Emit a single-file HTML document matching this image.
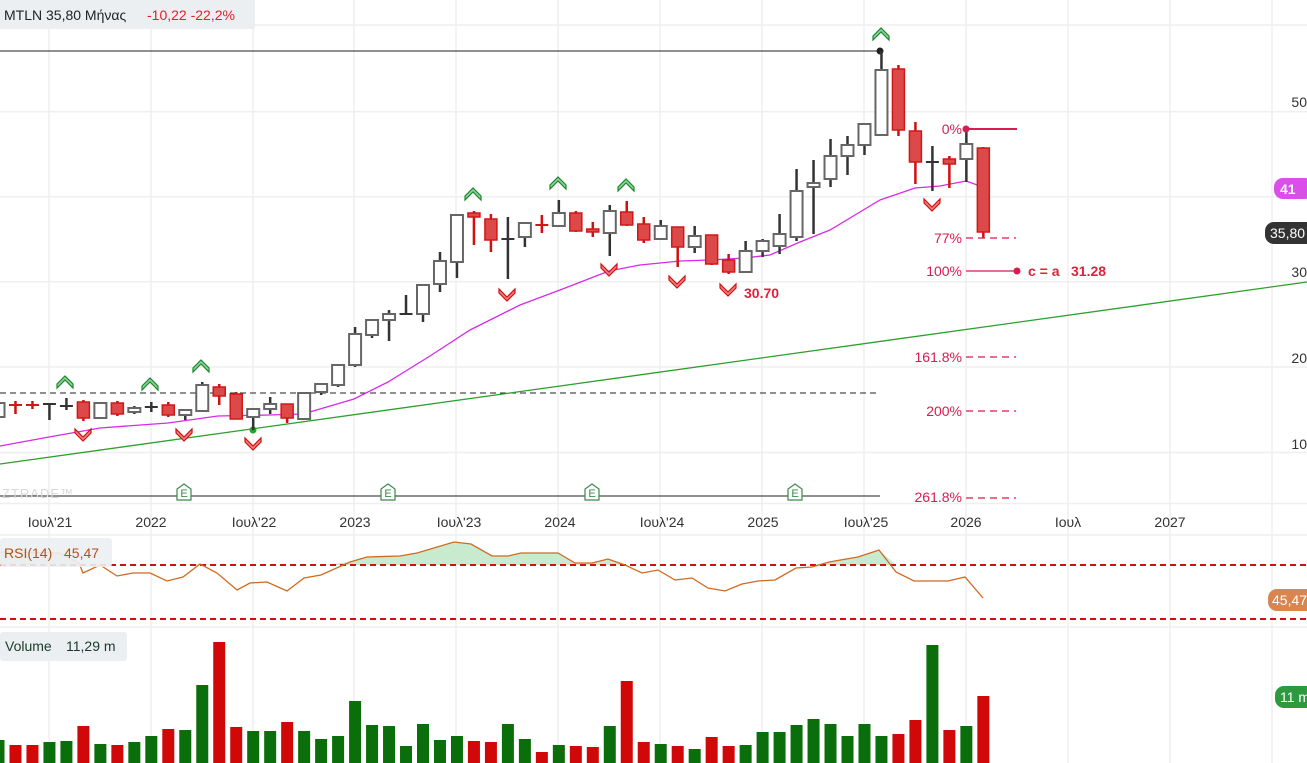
<!DOCTYPE html>
<html><head><meta charset="utf-8"><style>
html,body{margin:0;padding:0;background:#fff;width:1307px;height:763px;overflow:hidden}
svg{display:block;font-family:"Liberation Sans","DejaVu Sans",sans-serif}
</style></head><body>
<svg id="s" width="1307" height="763" viewBox="0 0 1307 763" xmlns="http://www.w3.org/2000/svg">
<g stroke="#efefef" stroke-width="1.5">
<line x1="0" y1="25" x2="1307" y2="25"/><line x1="0" y1="111.7" x2="1307" y2="111.7"/>
<line x1="0" y1="196.7" x2="1307" y2="196.7"/><line x1="0" y1="281.7" x2="1307" y2="281.7"/>
<line x1="0" y1="367" x2="1307" y2="367"/><line x1="0" y1="452.5" x2="1307" y2="452.5"/>
<line x1="0" y1="503.5" x2="1307" y2="503.5"/><line x1="0" y1="535" x2="1307" y2="535"/>
<line x1="0" y1="627" x2="1307" y2="627"/>
</g>
<g id="vg" stroke="#efefef" stroke-width="1.5"></g>
<rect x="0" y="0" width="255" height="29" fill="#eceff2"/>
<text x="4" y="20" font-size="14" fill="#222">MTLN 35,80 Μήνας</text>
<text x="147" y="20" font-size="14" fill="#e0202a">-10,22 -22,2%</text>
<line x1="0" y1="51" x2="880" y2="51" stroke="#222" stroke-width="1"/>
<circle cx="880" cy="51" r="3.5" fill="#222"/>
<line x1="0" y1="393" x2="880" y2="393" stroke="#222" stroke-width="1" stroke-dasharray="6,4"/>
<line x1="0" y1="496" x2="880" y2="496" stroke="#222" stroke-width="1"/>
<text x="2" y="498" font-size="13" fill="#d8d8d8" letter-spacing="1">ZTRADE™</text>
<line x1="0" y1="464" x2="1307" y2="282" stroke="#2ca02c" stroke-width="1.3"/>
<circle cx="253" cy="430" r="3.5" fill="#2ca02c"/>
<polyline fill="none" stroke="#d62ae8" stroke-width="1.3" points="0,446 49,437 100,428 168,423 218,416 269,415 303,414 354,399 388,382 430,356 470,330 490,320 520,305 560,290 609,271 640,265 680,261 710,260 745,258 770,255 800,242 830,230 860,212 880,200 915,188 940,186 966,181 983,187"/>
<g id="c"></g>
<g id="m"></g>
<g fill="#d81b50" font-size="14" text-anchor="end">
<text x="962" y="134">0%</text><text x="962" y="243">77%</text><text x="962" y="276">100%</text>
<text x="962" y="362">161.8%</text><text x="962" y="416">200%</text><text x="962" y="502">261.8%</text>
</g>
<g stroke="#d81b50" stroke-width="1.3">
<line x1="966" y1="129" x2="1017" y2="129" stroke-width="2"/>
<line x1="966" y1="238" x2="1016" y2="238" stroke-dasharray="7,5"/>
<line x1="966" y1="271" x2="1017" y2="271"/>
<line x1="966" y1="357" x2="1016" y2="357" stroke-dasharray="7,5"/>
<line x1="966" y1="411" x2="1016" y2="411" stroke-dasharray="7,5"/>
<line x1="966" y1="498" x2="1016" y2="498" stroke-dasharray="7,5"/>
</g>
<circle cx="966" cy="129" r="3.5" fill="#d81b50"/><circle cx="1017" cy="271" r="3.5" fill="#d81b50"/>
<text x="1028" y="276" font-size="14" font-weight="bold" fill="#e0203a">c = a</text>
<text x="1071" y="276" font-size="14" font-weight="bold" fill="#e0203a">31.28</text>
<text x="744" y="298" font-size="14" font-weight="bold" fill="#e0203a">30.70</text>
<g font-size="14" fill="#333" text-anchor="end">
<text x="1307" y="107">50</text><text x="1307" y="277">30</text><text x="1307" y="363">20</text><text x="1307" y="449">10</text>
</g>
<rect x="1274" y="178" width="40" height="21" rx="9" fill="#d94fe8"/>
<text x="1280" y="194" font-size="14" font-weight="bold" fill="#fff">41</text>
<rect x="1265" y="222" width="50" height="22" rx="9" fill="#333"/>
<text x="1270" y="238" font-size="14" fill="#fff">35,80</text>
<g font-size="14" fill="#333" text-anchor="middle">
<text x="50" y="527">Ιουλ'21</text><text x="151" y="527">2022</text><text x="254" y="527">Ιουλ'22</text>
<text x="355" y="527">2023</text><text x="459" y="527">Ιουλ'23</text><text x="560" y="527">2024</text>
<text x="662" y="527">Ιουλ'24</text><text x="763" y="527">2025</text><text x="866" y="527">Ιουλ'25</text>
<text x="966" y="527">2026</text><text x="1068" y="527">Ιουλ</text><text x="1170" y="527">2027</text>
</g>
<path id="rf" fill="#c8ebcf" d=""/>
<line x1="0" y1="565" x2="1307" y2="565" stroke="#d01010" stroke-width="2" stroke-dasharray="6,4"/>
<line x1="0" y1="619" x2="1307" y2="619" stroke="#d01010" stroke-width="2" stroke-dasharray="6,4"/>
<polyline id="rsi" fill="none" stroke="#d2691e" stroke-width="1.3" points=""/>
<rect x="0" y="538" width="112" height="29" rx="3" fill="#eceff2" opacity="0.9"/>
<text x="4" y="558" font-size="14" fill="#b0521a">RSI(14)</text><text x="64" y="558" font-size="14" fill="#b0521a">45,47</text>
<rect x="1268" y="589" width="48" height="22" rx="9" fill="#d98550"/>
<text x="1272" y="605" font-size="14" fill="#fff">45,47</text>
<g id="v"></g>
<rect x="0" y="632" width="127" height="29" rx="3" fill="#eceff2"/>
<text x="5" y="651" font-size="14" fill="#1a3a2a">Volume</text><text x="66" y="651" font-size="14" fill="#1a3a2a">11,29 m</text>
<rect x="1275" y="686" width="40" height="22" rx="9" fill="#2e9a40"/>
<text x="1280" y="702" font-size="14" fill="#fff">11 m</text>
<g font-size="11" fill="#3a8a4a" id="e"></g>
</svg>
<script>
var NS="http://www.w3.org/2000/svg";
function el(p,t,a){var e=document.createElementNS(NS,t);for(var k in a)e.setAttribute(k,a[k]);p.appendChild(e);return e;}
var vg=document.getElementById('vg');
[49,151,253,354,456,558,660,762,864,966,1068,1170,1272].forEach(function(x){el(vg,'line',{x1:x,y1:0,x2:x,y2:763});});
var C=[["h",403,417,401,419],["rc",404,406,401,414],["rc",404,406,401,409],["d",403,405,403,420],["d",405,407,398,410],
["r",402,418,400,421],["h",403,418,402,419],["r",403,414,401,416],["h",408,412,406,414],["d",406,408,402,412],
["r",405,415,402,417],["h",410,415,409,420],["h",385,411,382,411],["r",387,396,384,405],["r",394,419,392,419],
["h",409,417,409,430],["h",404,409,397,414],["r",404,418,404,423],["h",393,419,393,419],["h",384,392,384,395],
["h",365,385,364,387],["h",334,365,327,367],["h",320,335,319,338],["h",314,320,310,341],["d",313,315,295,315],
["h",285,314,284,322],["h",261,284,252,292],["h",215,262,215,278],["r",213,217,211,245],["r",219,240,214,252],
["d",238,240,217,279],["h",223,237,222,247],["rc",224,226,215,233],["h",213,226,200,226],["r",213,231,211,232],
["r",229,232,222,237],["h",211,233,205,256],["r",212,225,201,226],["r",224,240,217,243],["h",226,239,220,239],
["r",227,247,227,267],["h",236,247,226,253],["r",235,264,235,265],["r",260,272,254,274],["h",251,272,241,273],
["h",241,251,239,257],["h",234,246,214,254],["h",191,237,169,241],["h",183,187,160,234],["h",156,179,139,187],
["h",145,156,136,175],["h",124,145,124,155],["h",70,135,51,135],["r",69,130,65,136],["r",131,162,122,184],
["d",161,163,146,191],["r",159,164,156,188],["h",144,159,130,182],["r",148,232,147,238]];
var cg=document.getElementById('c');
function X(i){return -1.5+16.98*i;}
C.forEach(function(c,i){var x=X(i),t=c[0];
 var red=t=="r"||t=="rc";var wc=red?"#d01010":"#333";
 el(cg,'line',{x1:x,y1:c[3],x2:x,y2:c[4],stroke:wc,'stroke-width':2.5});
 if(t=="h")el(cg,'rect',{x:x-6,y:c[1],width:12,height:Math.max(c[2]-c[1],2),fill:"#fff",stroke:"#666",'stroke-width':2});
 else if(t=="r")el(cg,'rect',{x:x-6,y:c[1],width:12,height:c[2]-c[1],fill:"#dd4848",stroke:"#d01818",'stroke-width':1.5});
 else el(cg,'rect',{x:x-6.5,y:c[1],width:13,height:c[2]-c[1],fill:red?"#d01818":"#333"});
});
var mg=document.getElementById('m');
function up(x,y){el(mg,'path',{d:"M"+(x-8)+","+(y+3)+"L"+x+","+(y-5)+"L"+(x+8)+","+(y+3)+"L"+(x+8)+","+(y+7)+"L"+x+","+(y-1)+"L"+(x-8)+","+(y+7)+"Z",fill:"#8fd19e",stroke:"#1a8a2a",'stroke-width':1.2});}
function dn(x,y){el(mg,'path',{d:"M"+(x-8)+","+(y-3)+"L"+x+","+(y+5)+"L"+(x+8)+","+(y-3)+"L"+(x+8)+","+(y-7)+"L"+x+","+(y+1)+"L"+(x-8)+","+(y-7)+"Z",fill:"#f08080",stroke:"#d01010",'stroke-width':1.2});}
[[65,381],[150,383],[201,365],[473,193],[558,182],[626,184],[881,33]].forEach(function(p){up(p[0],p[1]);});
[[83,436],[184,436],[253,445],[507,296],[609,271],[677,283],[728,291],[932,206]].forEach(function(p){dn(p[0],p[1]);});
var eg=document.getElementById('e');
[184,388,592,795].forEach(function(x){el(eg,'path',{d:"M"+(x-7)+",500V489L"+x+",484L"+(x+7)+",489V500Z",fill:"#fff",stroke:"#3a8a4a",'stroke-width':1.2});
 var t=el(eg,'text',{x:x,y:497,'text-anchor':'middle'});t.textContent="E";});
var R=[[0,552],[60,553],[79,563],[83,573],[100,565],[117,576],[133,573],[150,573],[167,581],[183,577],[200,564],[217,573],[237,590],[250,583],[267,582],[287,591],[304,578],[321,575],[350,562],[367,557],[400,556],[417,553],[454,542],[471,544],[492,556],[508,556],[521,553],[558,553],[575,563],[592,563],[608,559],[625,565],[642,573],[658,570],[675,580],[692,578],[708,588],[725,591],[742,584],[758,581],[775,580],[796,568],[812,567],[829,562],[858,557],[879,550],[896,572],[914,581],[948,581],[965,577],[983,598]];
document.getElementById('rsi').setAttribute('points',R.map(function(p){return p.join(',');}).join(' '));
var d="M0,565";R.forEach(function(p){d+="L"+p[0]+","+Math.min(p[1],565);});d+="L983,565Z";
document.getElementById('rf').setAttribute('d',d);
var V=[[740,"g"],[745,"r"],[745,"r"],[742,"g"],[741,"g"],[726,"r"],[744,"g"],[745,"r"],[742,"g"],[736,"g"],
[729,"r"],[730,"g"],[685,"g"],[642,"r"],[727,"r"],[731,"g"],[731,"g"],[722,"r"],[731,"g"],[739,"g"],
[736,"g"],[701,"g"],[725,"g"],[726,"g"],[746,"g"],[724,"g"],[740,"g"],[736,"g"],[741,"r"],[742,"r"],
[724,"g"],[739,"g"],[752,"r"],[745,"g"],[746,"r"],[747,"r"],[726,"g"],[681,"r"],[742,"r"],[744,"g"],
[746,"r"],[749,"g"],[737,"r"],[746,"r"],[745,"g"],[732,"g"],[732,"g"],[725,"g"],[719,"g"],[724,"g"],
[736,"g"],[724,"g"],[736,"g"],[734,"r"],[720,"r"],[645,"g"],[730,"r"],[726,"g"],[696,"r"]];
var vgp=document.getElementById('v');
V.forEach(function(v,i){var x=X(i);el(vgp,'rect',{x:x-6,y:v[0],width:12,height:763-v[0],fill:v[1]=="g"?"#0a6e0a":"#d00808"});});
</script>
</body></html>
